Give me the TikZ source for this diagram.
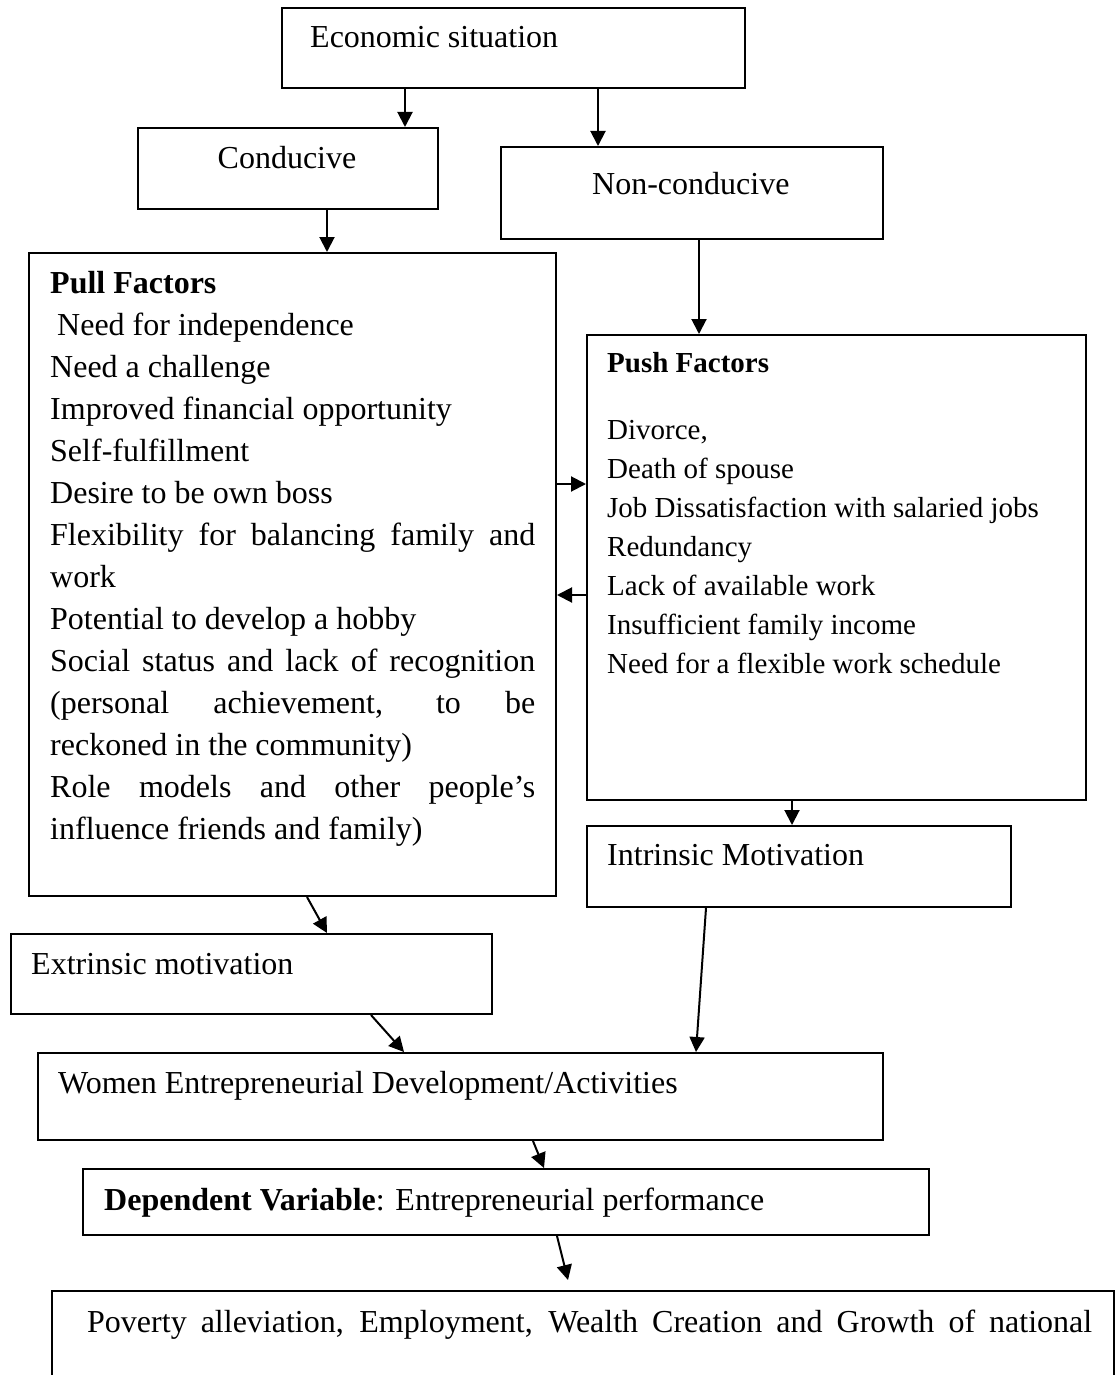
\documentclass[tikz,border=0pt]{standalone}
\usepackage{fontspec}
\setmainfont{Liberation Serif}
\usetikzlibrary{arrows.meta}
\newcommand{\spreadto}[2]{\makebox[#1][s]{#2}}
\newcommand{\fontspaces}{\spaceskip=0pt\xspaceskip=0pt\relax}

\begin{document}
\begin{tikzpicture}[x=1pt, y=-1pt,
    box/.style={draw, line width=2pt, rectangle, inner sep=0pt, anchor=north west},
    txt/.style={anchor=base west, inner sep=0pt, font=\fontsize{32}{42}\selectfont},
    arr/.style={line width=2pt, -{Triangle[length=15pt, width=15pt]}}]
    \clip (0,0) rectangle (1115,1375);
    \fill[white] (0,0) rectangle (1115,1375);

    % Economic situation
    \node[box, minimum width=463pt, minimum height=80pt] (eco) at (281,7) {};
    \node[txt] (ecotxt) at (310,48) {Economic situation};

    % Conducive / Non-conducive
    \node[box, minimum width=300pt, minimum height=81pt] (cond) at (137,127) {};
    \node[txt, anchor=base] (condtxt) at (287,168) {Conducive};
    \node[box, minimum width=382pt, minimum height=92pt] (noncond) at (500,146) {};
    \node[txt] (noncondtxt) at (592,195) {Non-conducive};

    % Pull factors
    \node[box, minimum width=527pt, minimum height=643pt] (pull) at (28,252) {};
    \node[anchor=north west, inner sep=0pt, text width=485pt, align=left,
          font=\fontsize{32}{42}\selectfont] (pulltxt) at (50,263.6)
        {\fontspaces\strut\textbf{Pull Factors}\\
         \hspace*{7pt}Need for independence\\
         Need a challenge\\
         Improved financial opportunity\\
         Self-fulfillment\\
         Desire to be own boss\\
         \spreadto{485pt}{Flexibility for balancing family and}\\
         work\\
         Potential to develop a hobby\\
         \spreadto{485pt}{Social status and lack of recognition}\\
         \spreadto{485pt}{(personal achievement, to be}\\
         reckoned in the community)\\
         \spreadto{485pt}{Role models and other people’s}\\
         influence friends and family)};

    % Push factors
    \node[box, minimum width=499pt, minimum height=465pt] (push) at (586,334) {};
    \node[anchor=north west, inner sep=0pt, align=left,
          font=\fontsize{29}{39}\selectfont] (pushtxt) at (607,344.7)
        {\fontspaces\strut\textbf{Push Factors}\\[28pt]
         Divorce,\\
         Death of spouse\\
         Job Dissatisfaction with salaried jobs\\
         Redundancy\\
         Lack of available work\\
         Insufficient family income\\
         Need for a flexible work schedule};

    % Motivation
    \node[box, minimum width=424pt, minimum height=81pt] (intr) at (586,825) {};
    \node[txt] (intrtxt) at (607,865) {Intrinsic Motivation};
    \node[box, minimum width=481pt, minimum height=80pt] (extr) at (10,933) {};
    \node[txt] (extrtxt) at (31,974) {Extrinsic motivation};

    % Activities and performance
    \node[box, minimum width=845pt, minimum height=87pt] (women) at (37,1052) {};
    \node[txt] (womentxt) at (58,1093) {Women Entrepreneurial Development/Activities};
    \node[box, minimum width=846pt, minimum height=66pt] (dep) at (82,1168) {};
    \node[txt] (deptxt) at (104,1210) {\textbf{Dependent Variable}: Entrepreneurial performance};
    \node[box, minimum width=1062pt, minimum height=200pt] (pov) at (51,1290) {};
    \node[txt] (povtxt) at (87,1332)
        {\spreadto{1005pt}{Poverty alleviation, Employment, Wealth Creation and Growth of national}};

    % Arrows
    \draw[arr] (eco.south -| 405,0) -- (cond.north -| 405,0);
    \draw[arr] (eco.south -| 598,0) -- (noncond.north -| 598,0);
    \draw[arr] (cond.south -| 327,0) -- (pull.north -| 327,0);
    \draw[arr] (noncond.south -| 699,0) -- (push.north -| 699,0);
    \draw[arr] (pull.east |- 0,484) -- (push.west |- 0,484);
    \draw[arr] (push.west |- 0,595) -- (pull.east |- 0,595);
    \draw[arr] (push.south -| 792,0) -- (intr.north -| 792,0);
    \draw[arr] (pull.south -| 307,0) -- (extr.north -| 327,0);
    \draw[arr] (extr.south -| 371,0) -- (women.north -| 404,0);
    \draw[arr] (intr.south -| 706,0) -- (women.north -| 696,0);
    \draw[arr] (women.south -| 533,0) -- (dep.north -| 544,0);
    \coordinate (povtip) at (568,1280);
    \draw[arr] (dep.south -| 557,0) -- (povtip);
\end{tikzpicture}
\end{document}
